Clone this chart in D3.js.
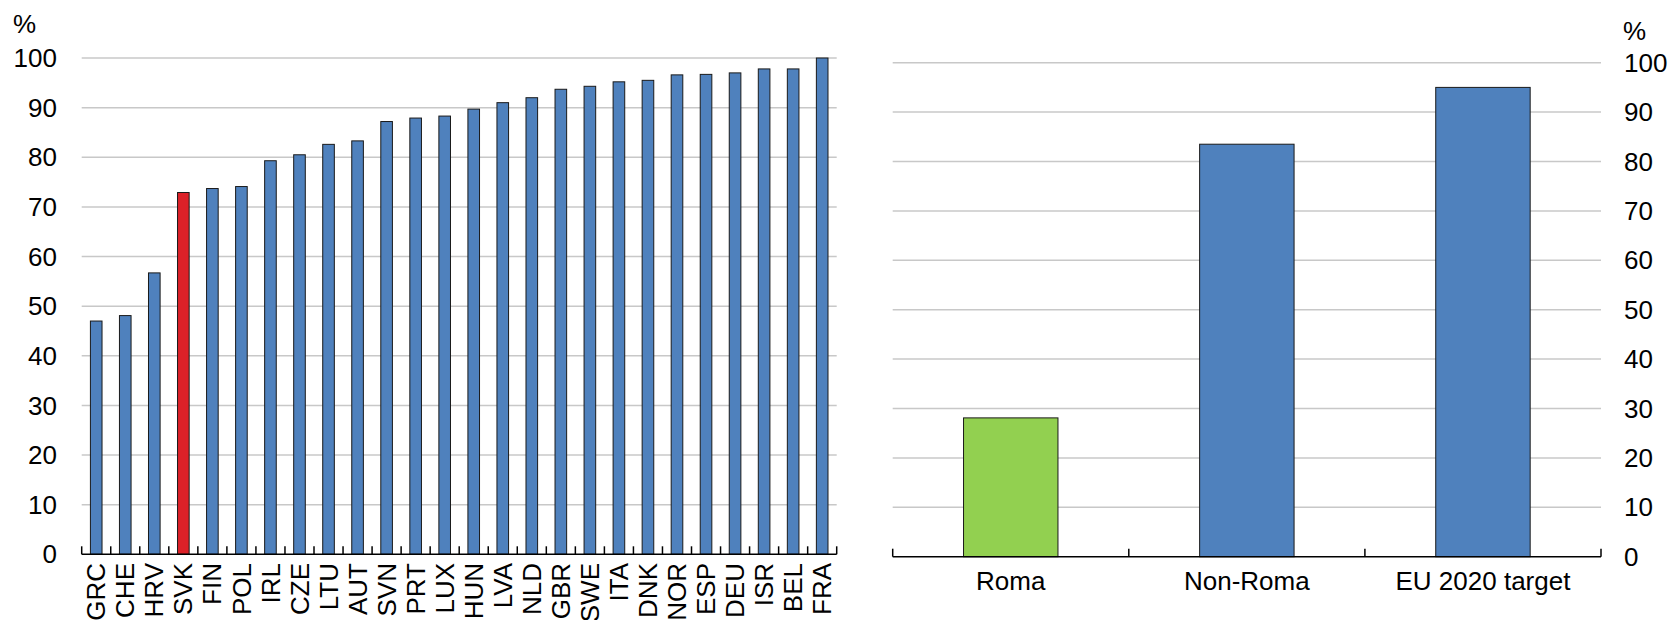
<!DOCTYPE html>
<html><head><meta charset="utf-8">
<script src="https://cdn.jsdelivr.net/npm/d3@7"></script>
<style>
body{margin:0;background:#fff;}
text{font-family:"Liberation Sans",Arial,sans-serif;fill:#000;}
</style></head>
<body>
<svg id="c" width="1671" height="620"></svg>
<script>
const countries = ["GRC","CHE","HRV","SVK","FIN","POL","IRL","CZE","LTU","AUT","SVN","PRT","LUX","HUN","LVA","NLD","GBR","SWE","ITA","DNK","NOR","ESP","DEU","ISR","BEL","FRA"];
const countryValues = [47.0,48.1,56.7,72.9,73.7,74.1,79.3,80.5,82.6,83.3,87.2,87.9,88.3,89.7,91.0,92.0,93.7,94.3,95.2,95.5,96.6,96.7,97.0,97.8,97.8,100];
const highlight = "SVK";
const groups = ["Roma","Non-Roma","EU 2020 target"];
const groupValues = [28.1,83.5,95.0];
const yTicks = [0,10,20,30,40,50,60,70,80,90,100];
const unitLabel = "%";

const BLUE="#4f81bd", RED="#dc2128", GREEN="#92d050", GRID="#c8c8c8";
const svg = d3.select("#c");
const FS = 26;

// ---------- Left panel ----------
{
  const x0=81.7, x1=836.7, yTop=58, yBot=554.3;
  const x = d3.scaleBand().domain(countries).range([x0,x1]).paddingInner(0.6).paddingOuter(0.3);
  const y = d3.scaleLinear().domain([0,100]).range([yBot,yTop]);
  const g = svg.append("g");
  g.selectAll("line.grid").data(yTicks.filter(d=>d>0)).join("line")
    .attr("x1",x0).attr("x2",x1).attr("y1",d=>y(d)).attr("y2",d=>y(d))
    .attr("stroke",GRID).attr("stroke-width",1.5);
  g.selectAll("text.yl").data(yTicks).join("text")
    .attr("x",57).attr("y",d=>y(d)).attr("dy","0.35em").attr("text-anchor","end")
    .attr("font-size",FS).text(d=>d);
  g.append("text").attr("x",13).attr("y",33).attr("font-size",FS).text(unitLabel);
  g.selectAll("rect").data(countries).join("rect")
    .attr("x",d=>x(d)).attr("width",x.bandwidth())
    .attr("y",(d,i)=>y(countryValues[i])).attr("height",(d,i)=>y(0)-y(countryValues[i]))
    .attr("fill",d=>d===highlight?RED:BLUE).attr("stroke","#1a1a1a").attr("stroke-width",1);
  // axis
  const step = x.step();
  const tickX = d3.range(countries.length+1).map(i=>x0+i*(x1-x0)/countries.length);
  g.append("line").attr("x1",x0).attr("x2",x1).attr("y1",yBot).attr("y2",yBot).attr("stroke","#000").attr("stroke-width",1.5);
  g.selectAll("line.tk").data(tickX).join("line")
    .attr("x1",d=>d).attr("x2",d=>d).attr("y1",yBot).attr("y2",yBot-8).attr("stroke","#000").attr("stroke-width",1.5);
  g.selectAll("text.xl").data(countries).join("text")
    .attr("transform",d=>`translate(${x(d)+x.bandwidth()/2},563) rotate(-90)`)
    .attr("dy","0.35em").attr("text-anchor","end").attr("font-size",FS).text(d=>d);
}

// ---------- Right panel ----------
{
  const x0=892.7, x1=1601, yTop=62.7, yBot=556.7;
  const x = d3.scaleBand().domain(groups).range([x0,x1]).paddingInner(0.6).paddingOuter(0.3);
  const y = d3.scaleLinear().domain([0,100]).range([yBot,yTop]);
  const g = svg.append("g");
  g.selectAll("line.grid").data(yTicks.filter(d=>d>0)).join("line")
    .attr("x1",x0).attr("x2",x1).attr("y1",d=>y(d)).attr("y2",d=>y(d))
    .attr("stroke",GRID).attr("stroke-width",1.5);
  g.selectAll("text.yl").data(yTicks).join("text")
    .attr("x",1624).attr("y",d=>y(d)).attr("dy","0.35em").attr("text-anchor","start")
    .attr("font-size",FS).text(d=>d);
  g.append("text").attr("x",1623).attr("y",40).attr("font-size",FS).text(unitLabel);
  g.selectAll("rect").data(groups).join("rect")
    .attr("x",d=>x(d)).attr("width",x.bandwidth())
    .attr("y",(d,i)=>y(groupValues[i])).attr("height",(d,i)=>y(0)-y(groupValues[i]))
    .attr("fill",(d,i)=>i===0?GREEN:BLUE).attr("stroke","#1a1a1a").attr("stroke-width",1);
  const tickX = d3.range(groups.length+1).map(i=>x0+i*(x1-x0)/groups.length);
  g.append("line").attr("x1",x0).attr("x2",x1).attr("y1",yBot).attr("y2",yBot).attr("stroke","#000").attr("stroke-width",1.5);
  g.selectAll("line.tk").data(tickX).join("line")
    .attr("x1",d=>d).attr("x2",d=>d).attr("y1",yBot).attr("y2",yBot-8).attr("stroke","#000").attr("stroke-width",1.5);
  g.selectAll("text.xl").data(groups).join("text")
    .attr("x",d=>x(d)+x.bandwidth()/2).attr("y",590).attr("text-anchor","middle")
    .attr("font-size",FS).text(d=>d);
}
</script>
</body></html>
